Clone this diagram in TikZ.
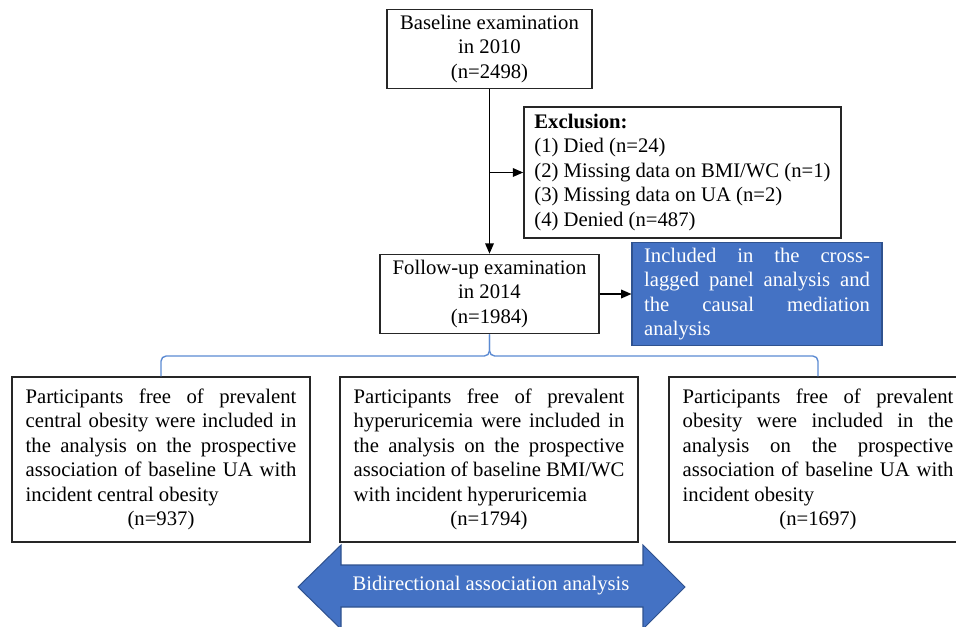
\documentclass[tikz,border=0pt]{standalone}
\usepackage{fontspec}
\setmainfont{Liberation Serif}
\usetikzlibrary{arrows.meta}
\definecolor{officeblue}{HTML}{4472C4}
\definecolor{officeedge}{HTML}{2F528F}
\definecolor{bracketblue}{HTML}{5B8AD2}

\begin{document}
\begin{tikzpicture}[x=0.58pt,y=-0.58pt,
    font=\fontsize{12}{14.2}\selectfont,
    box/.style={draw=black!85,line width=0.8pt,align=center},
    bluebox/.style={draw=officeedge,fill=officeblue,text=white,line width=0.6pt,align=justify},
    lower/.style={box,text width=157pt,inner xsep=8pt,minimum height=95.7pt,align=justify},
    arrow/.style={line width=0.8pt,-{Triangle[length=6pt,width=5pt]}},
    bracket/.style={draw=bracketblue,line width=0.8pt,rounded corners=3pt}]
    \useasboundingbox (0,0) rectangle (956,627);
    \node[box,minimum width=119pt,minimum height=45pt] (baseline) at (489.5,49) {Baseline examination\\in 2010\\(n=2498)};
    \node[box,align=left,inner xsep=5pt,minimum width=184pt,minimum height=76pt] (exclusion) at (682.5,172.5)
        {\textbf{Exclusion:}\\(1) Died (n=24)\\(2) Missing data on BMI/WC (n=1)\\(3) Missing data on UA (n=2)\\(4) Denied (n=487)};
    \node[box,minimum width=127pt,minimum height=45pt] (followup) at (489.5,294) {Follow-up examination\\in 2014\\(n=1984)};
    \node[bluebox,text width=131pt,inner xsep=7pt,minimum height=59pt] (included) at (757,294)
        {Included in the cross-\linebreak lagged panel analysis and\linebreak the causal mediation\linebreak analysis};
    \node[lower] (central) at (161,459.5) {Participants free of prevalent\linebreak central obesity were included in\linebreak the analysis on the prospective\linebreak association of baseline UA with\linebreak incident central obesity\par{\centering (n=937)\par}};
    \node[lower] (hyper) at (489,459.5) {Participants free of prevalent\linebreak hyperuricemia were included in\linebreak the analysis on the prospective\linebreak association of baseline BMI/WC\linebreak with incident hyperuricemia\par{\centering (n=1794)\par}};
    \node[lower] (general) at (818,459.5) {Participants free of prevalent\linebreak obesity were included in the\linebreak analysis on the prospective\linebreak association of baseline UA with\linebreak incident obesity\par{\centering (n=1697)\par}};
    \coordinate (split) at (489.5,172.5);
    \coordinate (brace) at (489.5,356);
    \draw[arrow] (baseline) -- (followup);
    \draw[arrow] (split) -- (exclusion.west);
    \draw[arrow] (followup) -- (included);
    \foreach \b in {central,general}{
        \draw[bracket] (\b.north) |- (brace) -- (followup.south);
    }
    \filldraw[fill=officeblue,draw=officeedge,line width=0.6pt] (298,587) -- (341,545) -- (341,565) -- (643,565) -- (643,545) -- (685,587)
        -- (643,629) -- (643,607) -- (341,607) -- (341,629) -- cycle;
    \node[text=white] (bidirectional) at (491,586) {Bidirectional association analysis};
\end{tikzpicture}
\end{document}
